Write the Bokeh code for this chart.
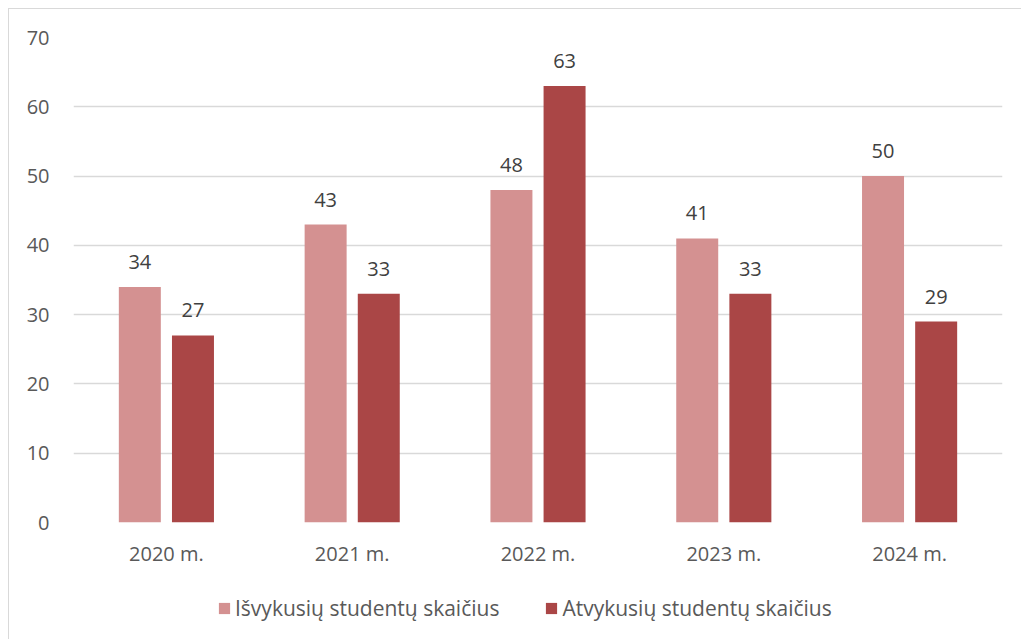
from bokeh.plotting import figure
from bokeh.layouts import column
from bokeh.models import ColumnDataSource, Legend, LegendItem, LabelSet, FixedTicker
from bokeh.core.properties import value
from bokeh.transform import dodge
from bokeh.embed import file_html
from bokeh.resources import INLINE

years = ["2020 m.", "2021 m.", "2022 m.", "2023 m.", "2024 m."]
isvykusiu = [34, 43, 48, 41, 50]
atvykusiu = [27, 33, 63, 33, 29]
series_names = ["Išvykusių studentų skaičius", "Atvykusių studentų skaičius"]
y_ticks = [0, 10, 20, 30, 40, 50, 60, 70]

LIGHT = "#D49191"
DARK = "#AA4646"
FONT = "Open Sans"
FS = "20px"

src = ColumnDataSource(dict(
    x=years, a=isvykusiu, b=atvykusiu,
    at=[str(v) for v in isvykusiu], bt=[str(v) for v in atvykusiu],
))

p = figure(x_range=years, y_range=(0, 70), width=1012, height=571,
           output_backend="svg", toolbar_location=None,
           min_border_left=64, min_border_right=19, min_border_top=28, min_border_bottom=58)

off = 0.143
w = 0.226
r1 = p.vbar(x=dodge("x", -off, range=p.x_range), top="a", width=w, source=src,
            fill_color=LIGHT, line_color=None)
r2 = p.vbar(x=dodge("x", off, range=p.x_range), top="b", width=w, source=src,
            fill_color=DARK, line_color=None)

for col, txt, dx in (("a", "at", -off), ("b", "bt", off)):
    ls = LabelSet(x=dodge("x", dx, range=p.x_range), y=col, text=txt, source=src,
                  text_align="center", text_baseline="middle", y_offset=25,
                  text_font=value(FONT), text_font_size=FS, text_color="#404040")
    p.add_layout(ls)

p.outline_line_color = None
p.background_fill_color = "white"
p.border_fill_color = "white"

p.xgrid.grid_line_color = None
p.ygrid.grid_line_color = "#d9d9d9"
p.ygrid.grid_line_width = 1.5
p.yaxis.ticker = FixedTicker(ticks=y_ticks)

for ax in (p.xaxis[0], p.yaxis[0]):
    ax.axis_line_color = None
    ax.major_tick_line_color = None
    ax.minor_tick_line_color = None
    ax.major_label_text_font = FONT
    ax.major_label_text_font_size = FS
    ax.major_label_text_color = "#595959"
p.yaxis.major_label_standoff = 18
p.xaxis.major_label_standoff = 11

# legend strip: hidden proxy renderers supply the legend swatches
q = figure(width=1012, height=59, x_range=years, y_range=(-2, -1),
           x_axis_location=None, y_axis_location=None,
           output_backend="svg", toolbar_location=None, min_border=0)
q.grid.visible = False
q.outline_line_color = None
q.border_fill_color = "white"
q.background_fill_color = "white"
lr1 = q.vbar(x="x", top="a", width=w, source=src, fill_color=LIGHT, line_color=None)
lr2 = q.vbar(x="x", top="b", width=w, source=src, fill_color=DARK, line_color=None)
lr1.visible = False
lr2.visible = False

legend = Legend(items=[LegendItem(label=series_names[0], renderers=[lr1]),
                       LegendItem(label=series_names[1], renderers=[lr2])],
                orientation="horizontal", location=(144, 17), click_policy="none",
                glyph_width=14, glyph_height=14, label_standoff=4, spacing=45,
                padding=0, margin=0, border_line_color=None, background_fill_alpha=0,
                inactive_fill_alpha=0,
                label_text_font=FONT, label_text_font_size="21px", label_text_color="#595959")
q.add_layout(legend)

layout = column(p, q, spacing=0,
                styles={"margin-left": "8px", "margin-top": "8px",
                        "border-left": "1px solid #d9d9d9", "border-top": "1px solid #d9d9d9"})

open("out.html", "w").write(file_html(layout, INLINE))
